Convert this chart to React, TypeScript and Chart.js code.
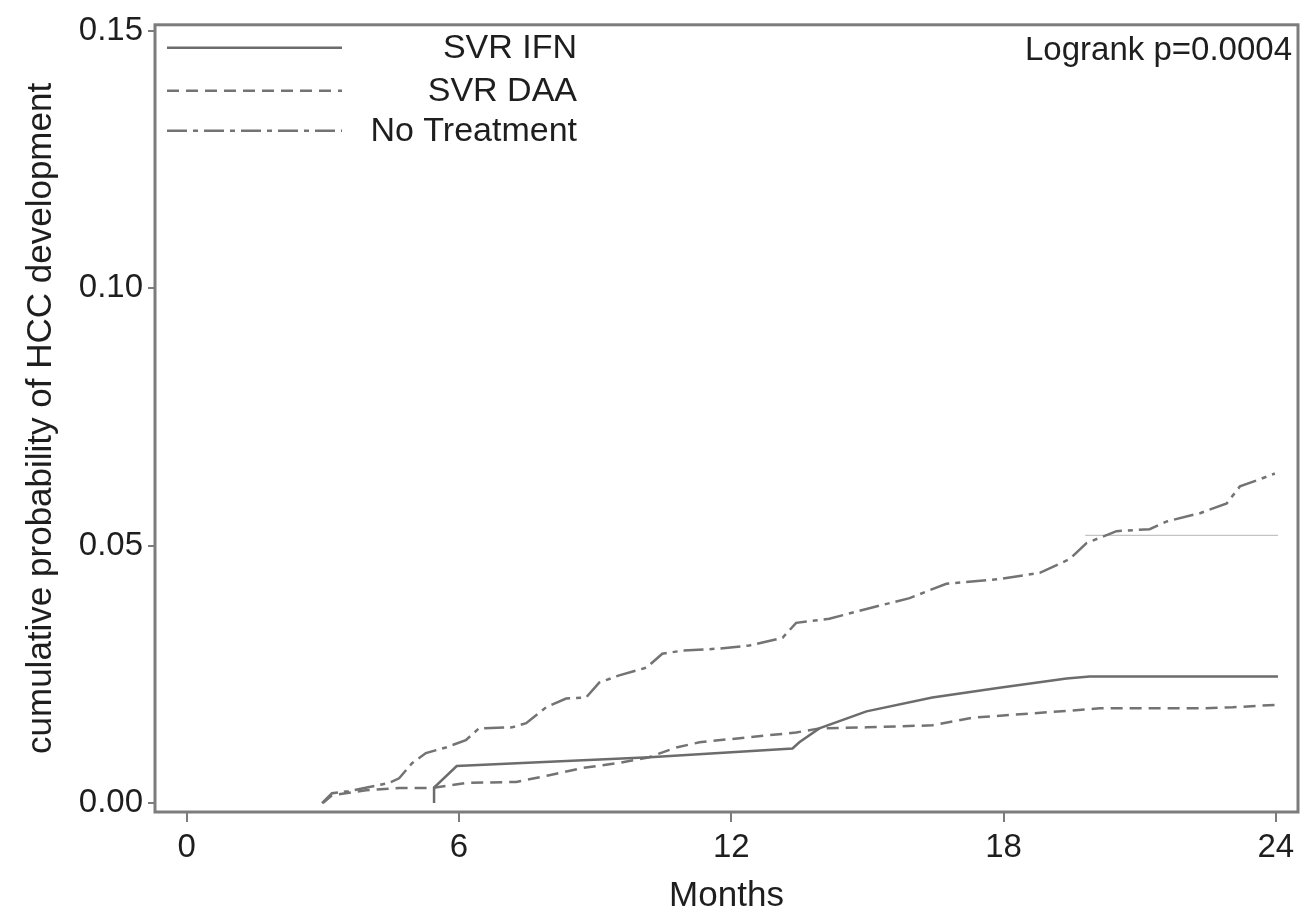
import React, { useEffect, useRef } from 'react';
import { Chart, registerables } from 'chart.js';

Chart.register(...registerables);

// ---- data ----
const xTicks = [0, 6, 12, 18, 24];
const yTicks = [0, 0.05, 0.1, 0.15];
const seriesLabels = ['SVR IFN', 'SVR DAA', 'No Treatment'];
const xTitle = 'Months';
const yTitle = 'cumulative probability of HCC development';
const annotationText = 'Logrank p=0.0004';

const ifnMonths = [5.45, 5.45, 5.95, 8.0, 10.2, 13.35, 13.5, 13.94, 14.98, 16.43, 17.91, 19.39, 19.9, 24.05];
const ifnProb = [0, 0.003, 0.0072, 0.008, 0.0089, 0.0106, 0.0118, 0.0145, 0.0178, 0.0205, 0.0224, 0.0242, 0.0246, 0.0246];

const daaMonths = [3.0, 3.2, 3.95, 4.68, 5.4, 6.15, 7.26, 7.99, 8.71, 9.46, 10.19, 10.79, 11.3, 12.4, 13.43, 13.94, 14.98, 16.43, 17.32, 18.64, 20.12, 22.33, 23.05, 24.05];
const daaProb = [0, 0.0015, 0.0025, 0.0029, 0.0029, 0.0039, 0.0041, 0.0054, 0.0068, 0.0077, 0.0089, 0.0108, 0.0118, 0.0128, 0.0137, 0.0145, 0.0147, 0.0151, 0.0166, 0.0174, 0.0184, 0.0184, 0.0186, 0.0191];

const noTxMonths = [2.98, 3.2, 3.57, 4.46, 4.68, 4.96, 5.27, 5.71, 6.15, 6.44, 7.17, 7.48, 7.92, 8.36, 8.8, 9.09, 9.53, 10.13, 10.48, 10.92, 11.74, 12.4, 13.13, 13.43, 14.16, 14.98, 15.93, 16.74, 17.91, 18.8, 19.46, 19.83, 20.49, 21.22, 21.6, 22.33, 22.92, 23.21, 23.65, 23.98];
const noTxProb = [0, 0.0019, 0.0023, 0.0039, 0.0048, 0.0077, 0.0097, 0.0108, 0.0122, 0.0145, 0.0147, 0.0155, 0.0186, 0.0203, 0.0205, 0.0234, 0.0248, 0.0263, 0.029, 0.0296, 0.03, 0.0306, 0.0321, 0.035, 0.0358, 0.0377, 0.0398, 0.0426, 0.0435, 0.0447, 0.0474, 0.0505, 0.0528, 0.0532, 0.0547, 0.0563, 0.0582, 0.0615, 0.0629, 0.064];

// faint residual line visible in the reference
const ghostMonths = [19.8, 24.05];
const ghostProb = [0.052, 0.052];

const FONT = "'Liberation Sans', Arial, Helvetica, sans-serif";
const TEXT = '#1e1e1e';
const AXIS = '#7c7c7c';

export default function App() {
  const ref = useRef<HTMLCanvasElement>(null);

  useEffect(() => {
    if (!ref.current) return;
    const pts = (xs: number[], ys: number[]) => xs.map((x, i) => ({ x, y: ys[i] }));

    const framePlugin = {
      id: 'frameLegend',
      afterDraw(chart: any) {
        const { ctx, chartArea: a } = chart;
        ctx.save();
        ctx.strokeStyle = AXIS;
        ctx.lineWidth = 3;
        ctx.setLineDash([]);
        ctx.strokeRect(a.left, a.top, a.right - a.left, a.bottom - a.top);

        const rows = [23, 66, 106];
        chart.data.datasets.forEach((ds: any, i: number) => {
          if (i >= seriesLabels.length) return;
          const y = a.top + rows[i];
          ctx.beginPath();
          ctx.setLineDash(ds.borderDash || []);
          ctx.strokeStyle = ds.borderColor;
          ctx.lineWidth = ds.borderWidth;
          ctx.moveTo(a.left + 12, y);
          ctx.lineTo(a.left + 187, y);
          ctx.stroke();
          ctx.setLineDash([]);
          ctx.font = `34px ${FONT}`;
          ctx.fillStyle = TEXT;
          ctx.textAlign = 'right';
          ctx.textBaseline = 'middle';
          ctx.fillText(ds.label, a.left + 422, y + 1);
        });

        ctx.font = `33px ${FONT}`;
        ctx.fillStyle = TEXT;
        ctx.textAlign = 'right';
        ctx.textBaseline = 'middle';
        ctx.fillText(annotationText, a.right - 6, a.top + 26);
        ctx.restore();
      },
    };

    const chart = new Chart(ref.current, {
      type: 'scatter',
      data: {
        datasets: [
          {
            label: seriesLabels[0],
            data: pts(ifnMonths, ifnProb),
            showLine: true,
            borderColor: '#6c6c6c',
            borderWidth: 2.5,
            borderDash: [],
            pointRadius: 0,
            tension: 0,
            fill: false,
          },
          {
            label: seriesLabels[1],
            data: pts(daaMonths, daaProb),
            showLine: true,
            borderColor: '#737373',
            borderWidth: 2.5,
            borderDash: [12, 7],
            pointRadius: 0,
            tension: 0,
            fill: false,
          },
          {
            label: seriesLabels[2],
            data: pts(noTxMonths, noTxProb),
            showLine: true,
            borderColor: '#737373',
            borderWidth: 2.5,
            borderDash: [20, 6, 5, 6],
            pointRadius: 0,
            tension: 0,
            fill: false,
          },
          {
            label: '',
            data: pts(ghostMonths, ghostProb),
            showLine: true,
            borderColor: '#c4c4c4',
            borderWidth: 1.2,
            pointRadius: 0,
            tension: 0,
            fill: false,
          },
        ],
      },
      options: {
        responsive: false,
        animation: false,
        layout: { padding: { top: 20, right: 5, left: 0, bottom: 0 } },
        plugins: {
          legend: { display: false },
          tooltip: { enabled: false },
        },
        scales: {
          x: {
            type: 'linear',
            min: -0.7,
            max: 24.49,
            afterBuildTicks: (s: any) => {
              s.ticks = xTicks.map((v) => ({ value: v }));
            },
            afterFit: (s: any) => {
              s.height = 111;
            },
            grid: { drawOnChartArea: false, drawTicks: true, tickLength: 10, color: AXIS, lineWidth: 2 },
            border: { display: false },
            ticks: {
              autoSkip: false,
              maxRotation: 0,
              padding: 6,
              color: TEXT,
              font: { family: FONT, size: 33 },
              callback: (v: any) => String(v),
            },
            title: {
              display: true,
              text: xTitle,
              color: TEXT,
              font: { family: FONT, size: 35 },
              padding: { top: 0, bottom: 6 },
            },
          },
          y: {
            type: 'linear',
            min: -0.00174,
            max: 0.15116,
            afterBuildTicks: (s: any) => {
              s.ticks = yTicks.map((v) => ({ value: v }));
            },
            afterFit: (s: any) => {
              s.width = 155;
            },
            grid: { drawOnChartArea: false, drawTicks: true, tickLength: 7, color: AXIS, lineWidth: 2 },
            border: { display: false },
            ticks: {
              padding: 5,
              color: TEXT,
              font: { family: FONT, size: 33 },
              callback: (v: any) => Number(v).toFixed(2),
            },
            title: {
              display: true,
              text: yTitle,
              color: TEXT,
              font: { family: FONT, size: 35 },
              padding: { top: 20, bottom: 0 },
            },
          },
        },
      },
      plugins: [framePlugin],
    } as any);

    return () => chart.destroy();
  }, []);

  return (
    <div style={{ position: 'absolute', left: 0, top: 0, width: 1303, height: 923, background: '#fff' }}>
      <canvas ref={ref} width={1303} height={923} style={{ display: 'block' }} />
    </div>
  );
}
